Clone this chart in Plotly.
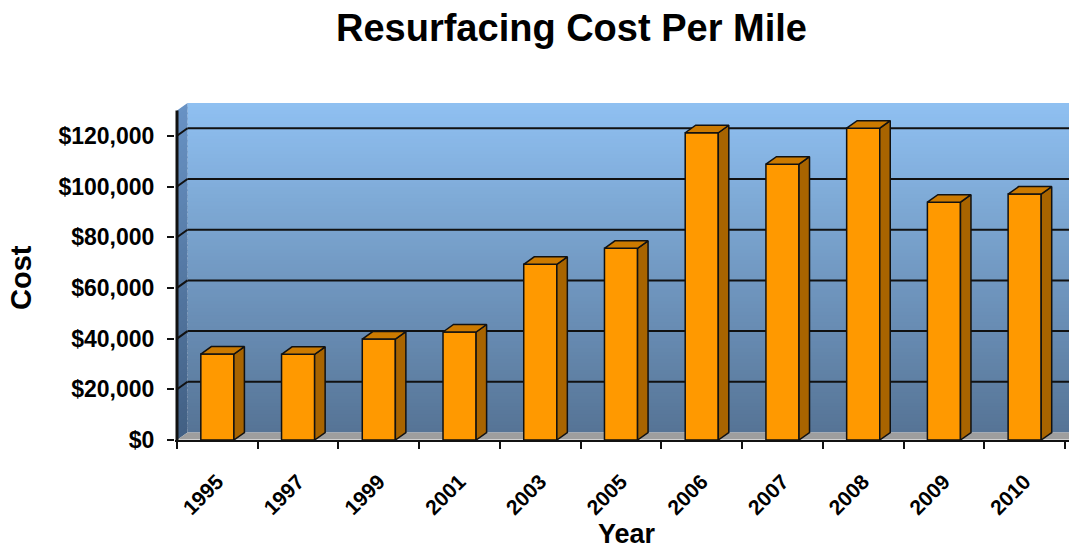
import plotly.graph_objects as go

# ---- data ----
years = ["1995", "1997", "1999", "2001", "2003", "2005", "2006", "2007", "2008", "2009", "2010"]
cost = [33900, 33800, 39800, 42600, 69300, 75600, 121200, 108800, 123000, 93800, 97000]
y_ticks = [0, 20000, 40000, 60000, 80000, 100000, 120000]
y_tick_text = ["$0", "$20,000", "$40,000", "$60,000", "$80,000", "$100,000", "$120,000"]

# ---- geometry (3D look) ----
PX_PER_X = 80.73          # px per category
PX_PER_Y = 2.535 / 1000   # px per dollar
DX = 10.5 / PX_PER_X      # depth offset in x data units
DY = 7.5 / PX_PER_Y       # depth offset in y data units
BW = 0.41                 # bar width
W, H = 1069, 552
ML, MR, MT, MB = 175, 0, 103, 112
X0 = -0.5                              # front-left corner of the chart box
XSTART = X0 - 2 / PX_PER_X             # left edge of plotting area
XEND = XSTART + (W - ML - MR) / PX_PER_X
TOP = (H - MT - MB) / PX_PER_Y

xs = list(range(len(years)))

fig = go.Figure()

shapes = []


def lerp(c1, c2, t):
    return "rgb(%d,%d,%d)" % tuple(round(a + (b - a) * t) for a, b in zip(c1, c2))


# back wall gradient
wall_top = (143, 192, 241)
wall_bot = (86, 116, 150)
N = 90
for i in range(N):
    y0 = DY + (TOP - DY) * i / N
    y1 = DY + (TOP - DY) * (i + 1.3) / N
    t = i / (N - 1)
    shapes.append(dict(type="rect", xref="x", yref="y", x0=X0 + DX, x1=XEND + 1,
                       y0=y0, y1=min(y1, TOP + 5000), fillcolor=lerp(wall_bot, wall_top, t),
                       line=dict(width=0), layer="below"))

# left side wall gradient
lw_top = (104, 146, 196)
lw_bot = (66, 96, 132)
NL = 60
LTOP = TOP - DY
for i in range(NL):
    y0 = LTOP * i / NL
    y1 = LTOP * min(i + 1.3, NL) / NL
    t = i / (NL - 1)
    path = "M %f,%f L %f,%f L %f,%f L %f,%f Z" % (
        X0, y0, X0 + DX, y0 + DY, X0 + DX, y1 + DY, X0, y1)
    shapes.append(dict(type="path", xref="x", yref="y", path=path,
                       fillcolor=lerp(lw_bot, lw_top, t), line=dict(width=0), layer="below"))

# floor
path = "M %f,%f L %f,%f L %f,%f L %f,%f Z" % (
    X0, 0, XEND + 1, 0, XEND + 1 + DX, DY, X0 + DX, DY)
shapes.append(dict(type="path", xref="x", yref="y", path=path,
                   fillcolor="#9e9e9e", line=dict(width=0), layer="below"))
# light front edge of floor
shapes.append(dict(type="rect", xref="x", yref="y", x0=X0, x1=XEND + 1,
                   y0=0, y1=0.9 / PX_PER_Y, fillcolor="#cfcfcf", line=dict(width=0), layer="below"))

# gridlines on back + side wall
for v in y_ticks[1:]:
    shapes.append(dict(type="line", xref="x", yref="y", x0=X0 + DX, x1=XEND + 1,
                       y0=v + DY, y1=v + DY, line=dict(color="#111111", width=2), layer="below"))
    shapes.append(dict(type="line", xref="x", yref="y", x0=X0, x1=X0 + DX,
                       y0=v, y1=v + DY, line=dict(color="#111111", width=2), layer="below"))

# front faces
fig.add_trace(go.Bar(x=xs, y=cost, width=BW, marker=dict(color="#FF9900",
                     line=dict(color="#111111", width=1.5)), hoverinfo="skip"))

# side and top faces
sx, sy = [], []
tx, ty = [], []
for x, v in zip(xs, cost):
    r = x + BW / 2
    l = x - BW / 2
    sx += [r, r + DX, r + DX, r, r, None]
    sy += [0, DY, v + DY, v, 0, None]
    tx += [l, r, r + DX, l + DX, l, None]
    ty += [v, v, v + DY, v + DY, v, None]
fig.add_trace(go.Scatter(x=sx, y=sy, mode="lines", fill="toself", fillcolor="#A86400",
                         line=dict(color="#111111", width=1.5), hoverinfo="skip"))
fig.add_trace(go.Scatter(x=tx, y=ty, mode="lines", fill="toself", fillcolor="#CC7A00",
                         line=dict(color="#111111", width=1.5), hoverinfo="skip"))

# front vertical axis line (up to top of side wall)
fig.add_trace(go.Scatter(x=[X0, X0], y=[0, LTOP], mode="lines",
                         line=dict(color="#111111", width=3), hoverinfo="skip"))

FONT = "Liberation Sans, Arial, sans-serif"

fig.update_layout(
    width=W, height=H,
    margin=dict(l=ML, r=MR, t=MT, b=MB),
    paper_bgcolor="white", plot_bgcolor="white",
    showlegend=False,
    shapes=shapes,
    xaxis=dict(range=[XSTART, XEND], tickmode="array", tickvals=xs, ticktext=years,
               tickangle=-45, ticks="", showgrid=False, zeroline=False,
               showline=True, linecolor="#111111", linewidth=2,
               tickfont=dict(family=FONT, size=21, color="black", weight="bold"),
               ticklabelstandoff=19,
               minor=dict(tickmode="array", tickvals=[X0 + i for i in range(len(years) + 1)],
                          ticks="outside", ticklen=7, tickwidth=2, tickcolor="#111111",
                          showgrid=False)),
    yaxis=dict(range=[0, TOP], tickmode="array", tickvals=y_ticks, ticktext=y_tick_text,
               ticks="outside", ticklen=7, tickwidth=2,
               tickcolor="#111111", showgrid=False, zeroline=False, showline=False,
               tickfont=dict(family=FONT, size=23, color="black", weight="bold"),
               ticklabelstandoff=8),
    annotations=[
        dict(text="Resurfacing Cost Per Mile", xref="paper", yref="paper",
             x=(571 - ML) / (W - ML - MR), y=1 + (MT - 28) / (H - MT - MB),
             xanchor="center", yanchor="middle", showarrow=False,
             font=dict(family=FONT, size=38, color="black", weight="bold")),
        dict(text="Cost", xref="paper", yref="paper",
             x=(21 - ML) / (W - ML - MR), y=(H - MB - 278) / (H - MT - MB),
             xanchor="center", yanchor="middle", showarrow=False, textangle=-90,
             font=dict(family=FONT, size=29, color="black", weight="bold")),
        dict(text="Year", xref="paper", yref="paper",
             x=(627 - ML) / (W - ML - MR), y=(H - MB - 550) / (H - MT - MB),
             xanchor="center", yanchor="bottom", showarrow=False, borderpad=0,
             font=dict(family=FONT, size=27, color="black", weight="bold")),
    ],
)

fig.write_html("out.html")
